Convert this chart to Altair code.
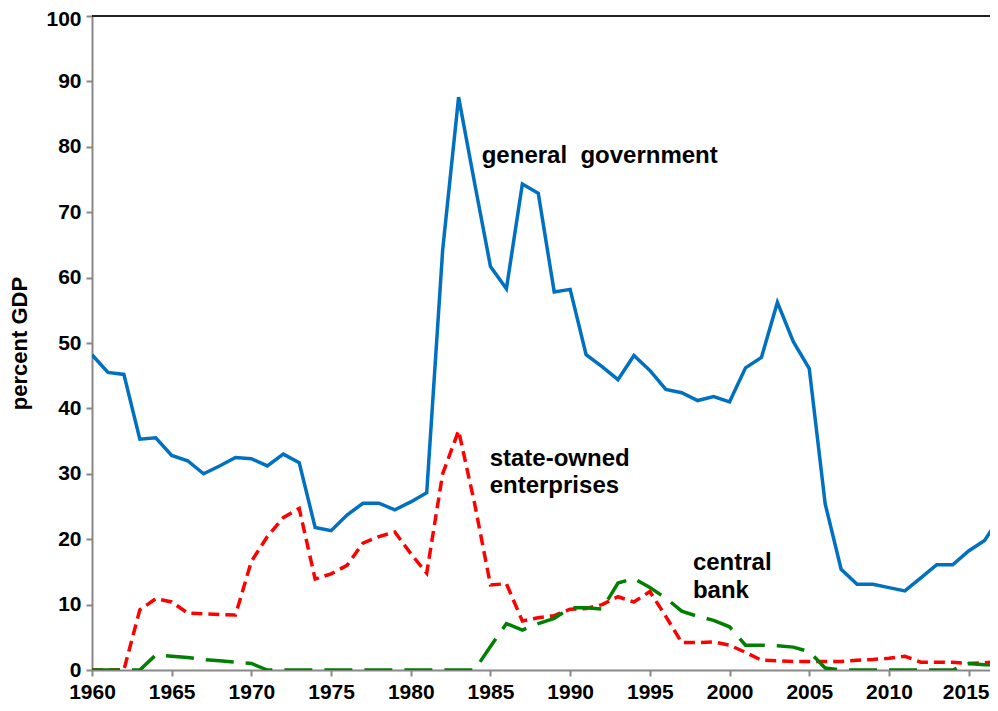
import altair as alt
import pandas as pd

years = list(range(1960, 2018))

general_government = [
    48.2, 45.5, 45.2, 35.3, 35.5, 32.8, 32.0, 30.0, 31.2, 32.5,
    32.3, 31.2, 33.0, 31.7, 21.8, 21.3, 23.7, 25.5, 25.5, 24.5,
    25.7, 27.1, 64.2, 87.6, 74.5, 61.7, 58.3, 74.3, 72.9, 57.8,
    58.2, 48.2, 46.4, 44.4, 48.1, 45.8, 42.9, 42.4, 41.2, 41.8,
    41.0, 46.2, 47.8, 56.2, 50.2, 46.1, 25.4, 15.4, 13.1, 13.1,
    12.6, 12.1, 14.1, 16.1, 16.1, 18.2, 19.8, 23.5,
]

state_owned = [
    0.0, 0.0, 0.0, 9.2, 10.9, 10.4, 8.7, 8.6, 8.5, 8.4,
    16.6, 20.4, 23.3, 24.7, 13.9, 14.7, 16.0, 19.4, 20.4, 21.1,
    17.8, 14.8, 30.0, 36.6, 25.5, 13.0, 13.2, 7.5, 8.0, 8.3,
    9.3, 9.4, 10.0, 11.2, 10.4, 12.0, 8.2, 4.2, 4.2, 4.3,
    3.8, 2.7, 1.5, 1.4, 1.3, 1.3, 1.3, 1.3, 1.5, 1.6,
    1.8, 2.1, 1.2, 1.2, 1.2, 1.0, 1.1, 1.3,
]

central_bank = [
    0.0, 0.0, 0.0, 0.0, 2.3, 2.1, 1.9, 1.6, 1.4, 1.2,
    1.0, 0.0, 0.0, 0.0, 0.0, 0.0, 0.0, 0.0, 0.0, 0.0,
    0.0, 0.0, 0.0, 0.0, 0.0, 3.6, 7.1, 6.1, 7.1, 7.9,
    9.5, 9.5, 9.3, 13.3, 14.0, 12.6, 11.0, 9.0, 8.2, 7.6,
    6.6, 3.8, 3.8, 3.7, 3.5, 2.8, 0.3, 0.0, 0.0, 0.0,
    0.0, 0.0, 0.0, 0.0, 0.0, 1.0, 0.8, 0.8,
]

x_ticks = [1960, 1965, 1970, 1975, 1980, 1985, 1990, 1995, 2000, 2005, 2010, 2015]
y_ticks = [0, 10, 20, 30, 40, 50, 60, 70, 80, 90, 100]

labels = [
    {"text": "general \u00a0government", "year": 1984.45, "value": 77.5},
    {"text": "state-owned", "year": 1984.95, "value": 31.2},
    {"text": "enterprises", "year": 1984.95, "value": 27.1},
    {"text": "central", "year": 1997.7, "value": 15.3},
    {"text": "bank", "year": 1997.7, "value": 11.0},
]

df = pd.DataFrame({
    "year": years,
    "gg": general_government,
    "soe": state_owned,
    "cb": central_bank,
})
lab_df = pd.DataFrame(labels)

FONT = "Liberation Sans"

x_scale = alt.Scale(domain=[1960, 2016.34], nice=False, zero=False)
x_enc = alt.X(
    "year:Q",
    scale=x_scale,
    axis=alt.Axis(values=x_ticks, format="d", title=None, grid=False,
                  labelPadding=5, labelFlush=False,
                  labelOffset=alt.ExprRef(expr="datum.value == 2015 ? -3 : 0")),
)
y_axis = alt.Axis(values=y_ticks, title="percent GDP", grid=False,
                  labelPadding=5, titleX=-61, titleFontSize=22,
                  titleFontWeight="bold", titleFont=FONT,
                  labelOffset=alt.ExprRef(expr="datum.value == 100 ? 3 : 0"))
y_scale = alt.Scale(domain=[0, 100], nice=False)

base = alt.Chart(df)

top_rule = base.mark_rule(color="#222222", strokeWidth=2).encode(
    y=alt.datum(100, scale=y_scale)
)

gg_line = base.mark_line(color="#0070C0", strokeWidth=3.5, clip=True).encode(
    x=x_enc, y=alt.Y("gg:Q", scale=y_scale, axis=y_axis)
)
soe_line = base.mark_line(color="#FF0000", strokeWidth=3.5, strokeDash=[11, 6],
                          clip=True).encode(x="year:Q", y="soe:Q")
cb_line = base.mark_line(color="#008000", strokeWidth=3.5, strokeDash=[28, 12],
                         clip=True).encode(x="year:Q", y="cb:Q")

text = alt.Chart(lab_df).mark_text(
    align="left", baseline="alphabetic", font=FONT, fontSize=24,
    fontWeight="bold", color="black"
).encode(x="year:Q", y="value:Q", text="text:N")

chart = alt.layer(gg_line, top_rule, soe_line, cb_line, text).properties(
    width=898,
    height=654,
    autosize=alt.AutoSizeParams(type="none"),
    padding={"left": 84, "top": 8, "right": 0, "bottom": 34},
).configure_view(
    stroke=None
).configure_axis(
    domainColor="#888888",
    domainWidth=2,
    tickColor="#888888",
    tickWidth=2,
    tickSize=6,
    labelFont=FONT,
    labelFontSize=21,
    labelFontWeight="bold",
    labelColor="black",
    titleColor="black",
)

chart.save("out.html", embed_options={"renderer": "svg", "actions": False})
